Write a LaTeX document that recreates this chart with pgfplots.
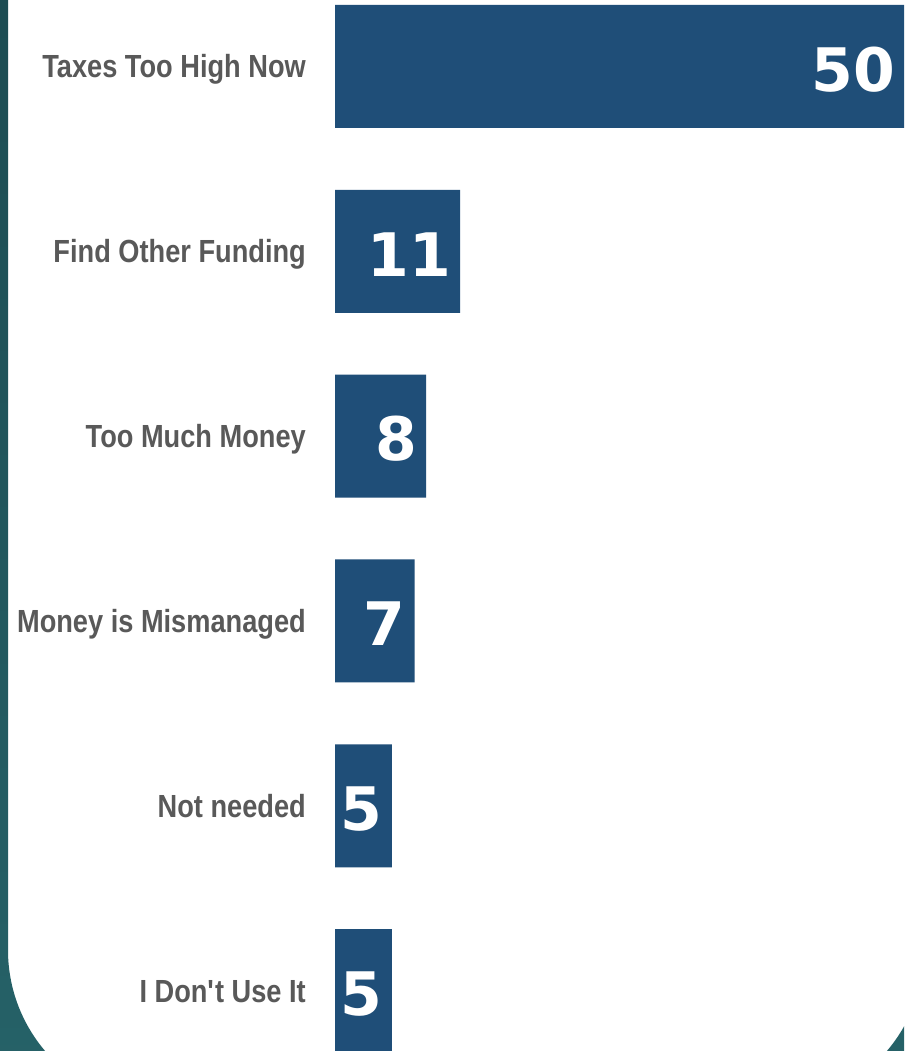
\documentclass[border=0pt]{standalone}
\usepackage{pgfplots}
\pgfplotsset{compat=1.18}
\usepackage{fontspec}
\setmainfont{Liberation Sans}[FakeStretch=0.85]
\newfontfamily\valfont{DejaVu Sans}
\definecolor{barblue}{RGB}{31,78,120}
\definecolor{labgray}{RGB}{89,89,89}
\definecolor{tealA}{RGB}{27,72,78}
\definecolor{tealB}{RGB}{38,98,104}
\begin{document}
\begin{tikzpicture}[x=1pt,y=1pt]
\useasboundingbox (0,0) rectangle (904,1051);
\clip (0,0) rectangle (904,1051);
\fill[white] (0,0) rectangle (904,1051);
\shade[top color=tealA, bottom color=tealB, even odd rule] (-2,-2) rectangle (906,1053) {[rounded corners=156pt] (8,-55) rectangle (924,1300)};
\begin{axis}[
  at={(335pt,0pt)}, anchor=south west,
  scale only axis, width=569pt, height=1051pt,
  xbar, bar width=123pt,
  xmin=0, xmax=50,
  ymin=-0.36, ymax=5.327, y dir=reverse,
  axis line style={draw=none},
  xtick=\empty,
  ytick={0,...,5},
  yticklabels={Taxes Too High Now, Find Other Funding, Too Much Money, Money is Mismanaged, Not needed, I Don\textquotesingle t Use It},
  major tick length=0pt,
  yticklabel style={font=\fontsize{32}{38}\selectfont\bfseries, text=labgray, anchor=base east, inner sep=0pt, xshift=-29pt, yshift=-11.5pt},
  nodes near coords={\valfont\bfseries\pgfmathprintnumber[assume math mode=true]{\pgfplotspointmeta}},
  nodes near coords align={anchor=east},
  every node near coord/.append style={text=white, font=\fontsize{60}{72}\selectfont, inner sep=0pt, xshift=-9pt, yshift=-3pt},
  clip=false,
]
\addplot[fill=barblue, draw=none] coordinates {(50,0) (11,1) (8,2) (7,3) (5,4) (5,5)};
\end{axis}
\end{tikzpicture}
\end{document}
